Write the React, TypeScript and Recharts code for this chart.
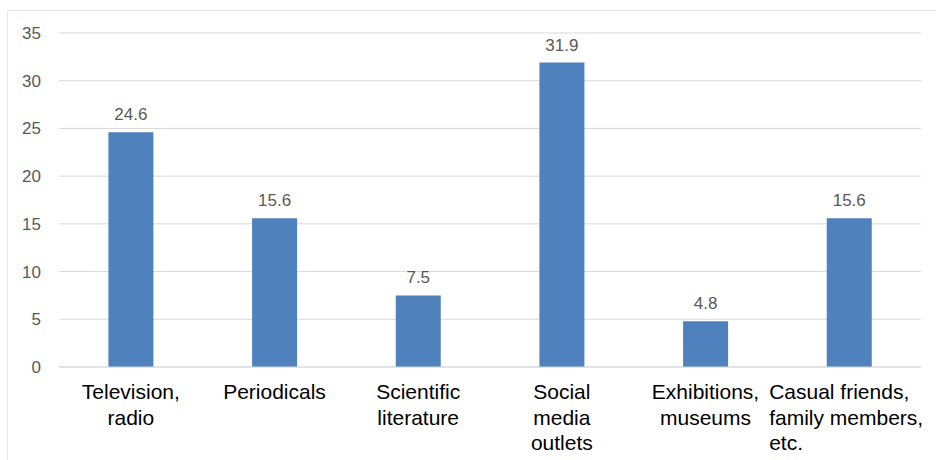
import React from "react";
import { BarChart, Bar, XAxis, YAxis, CartesianGrid, LabelList } from "recharts";

const categories: string[] = [
  "Television, radio",
  "Periodicals",
  "Scientific literature",
  "Social media outlets",
  "Exhibitions, museums",
  "Casual friends, family members, etc.",
];

const categoryLines: string[][] = [
  ["Television,", "radio"],
  ["Periodicals"],
  ["Scientific", "literature"],
  ["Social", "media", "outlets"],
  ["Exhibitions,", "museums"],
  ["Casual friends,", "family members,", "etc."],
];

const values: number[] = [24.6, 15.6, 7.5, 31.9, 4.8, 15.6];

const yTicks: number[] = [0, 5, 10, 15, 20, 25, 30, 35];

const data = categories.map((c, i) => ({ name: c, value: values[i], idx: i }));

const FONT = "'Liberation Sans', Arial, sans-serif";

const CategoryTick = (props: any) => {
  const { x, y, index } = props;
  const lines = categoryLines[index] || [];
  const leftAligned = index === categoryLines.length - 1;
  return (
    <g>
      {lines.map((l, i) => (
        <text
          key={i}
          x={leftAligned ? x - 80 : x}
          y={y + 32 + i * 25.5}
          textAnchor={leftAligned ? "start" : "middle"}
          fill="#000000"
          fontSize={21}
          fontFamily={FONT}
        >
          {l}
        </text>
      ))}
    </g>
  );
};

export default function App() {
  return (
    <div
      style={{
        position: "absolute",
        left: 0,
        top: 0,
        width: 936,
        height: 460,
        overflow: "hidden",
        background: "#ffffff",
      }}
    >
      <div
        style={{
          position: "absolute",
          left: 7,
          top: 10,
          width: 960,
          height: 480,
          border: "1px solid #e6e6e6",
          boxSizing: "border-box",
        }}
      />
      <div style={{ position: "absolute", left: 0, top: 0 }}>
        <BarChart
          width={936}
          height={460}
          data={data}
          margin={{ top: 33, right: 15, bottom: 0, left: 0 }}
          barCategoryGap="34.4%"
        >
          <CartesianGrid vertical={false} stroke="#d9d9d9" strokeWidth={1} />
          <XAxis
            dataKey="name"
            axisLine={{ stroke: "#d9d9d9" }}
            tickLine={false}
            tickSize={0}
            tickMargin={0}
            height={93}
            interval={0}
            tick={<CategoryTick />}
          />
          <YAxis
            domain={[0, 35]}
            ticks={yTicks}
            axisLine={false}
            tickLine={false}
            tickSize={0}
            tickMargin={18}
            width={59}
            tick={{ fill: "#595959", fontSize: 17, fontFamily: FONT }}
          />
          <Bar dataKey="value" fill="#4F81BD" isAnimationActive={false}>
            <LabelList
              dataKey="value"
              position="top"
              offset={12}
              fill="#595959"
              fontSize={17}
              fontFamily={FONT}
              formatter={(v: any) => Number(v).toFixed(1)}
            />
          </Bar>
        </BarChart>
      </div>
    </div>
  );
}
